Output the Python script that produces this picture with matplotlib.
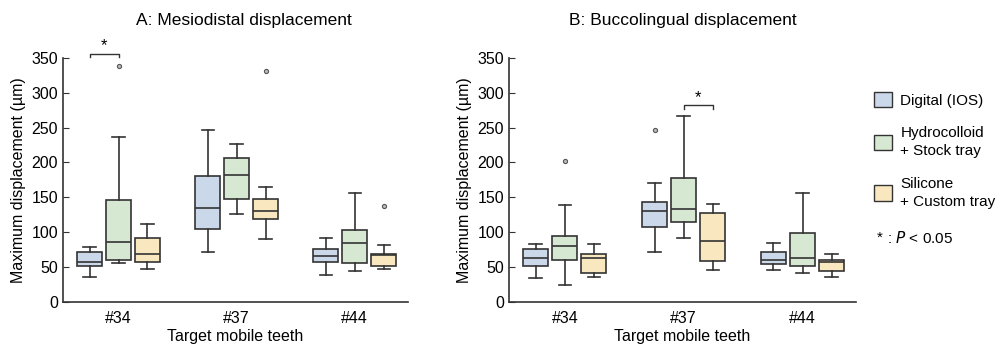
import numpy as np
import matplotlib
matplotlib.use('Agg')
import matplotlib.pyplot as plt
from matplotlib.patches import Patch

plt.rcParams['font.family'] = ['Liberation Sans', 'DejaVu Sans']

teeth = ['#34', '#37', '#44']
groups = ['Digital (IOS)', 'Hydrocolloid\n+ Stock tray', 'Silicone\n+ Custom tray']
colors = ['#cbd8ea', '#d6e8d2', '#f9e7bf']

# box stats: [whislo, q1, med, q3, whishi] per tooth, per group
md_digital = [[36, 51, 57, 72, 79], [72, 104, 134, 181, 247], [38, 57, 66, 76, 91]]
md_hydro = [[56, 60, 86, 146, 236], [126, 147, 182, 206, 226], [44, 55, 84, 103, 156]]
md_silicone = [[47, 57, 68, 91, 111], [90, 118, 130, 147, 164], [47, 51, 67, 68, 81]]
md_fliers = {(0, 1): [338], (1, 2): [331], (2, 2): [138]}

bl_digital = [[34, 51, 62, 75, 83], [72, 107, 130, 143, 171], [46, 54, 60, 72, 84]]
bl_hydro = [[24, 60, 80, 95, 139], [92, 115, 133, 177, 267], [41, 51, 62, 98, 156]]
bl_silicone = [[36, 41, 62, 68, 83], [46, 59, 87, 128, 140], [36, 44, 57, 60, 69]]
bl_fliers = {(0, 1): [202], (1, 0): [247]}

# significance: (tooth, group a, group b, y)
md_sig = [(0, 0, 1, 356)]
bl_sig = [(1, 1, 2, 282)]


def draw_panel(ax, series, fliers, sig, title, title_x):
    offsets = [-0.245, 0, 0.245]
    for g, data in enumerate(series):
        stats = []
        for t, s in enumerate(data):
            stats.append(dict(whislo=s[0], q1=s[1], med=s[2], q3=s[3], whishi=s[4],
                              fliers=fliers.get((t, g), [])))
        pos = np.arange(len(teeth)) + offsets[g]
        ax.bxp(stats, positions=pos, widths=0.21, patch_artist=True,
               boxprops=dict(facecolor=colors[g], edgecolor='#333333', linewidth=1.2),
               medianprops=dict(color='#333333', linewidth=1.2),
               whiskerprops=dict(color='#333333', linewidth=1.2),
               capprops=dict(color='#333333', linewidth=1.2),
               flierprops=dict(marker='o', markersize=3, markerfacecolor='#bbbbbb',
                               markeredgecolor='#555555', markeredgewidth=0.8))
    for t, a, b, y in sig:
        xa = t + offsets[a]
        xb = t + offsets[b]
        ax.plot([xa, xa, xb, xb], [y - 5, y, y, y - 5], color='#333333', lw=1, clip_on=False)
        ax.text((xa + xb) / 2, y + 1, '*', ha='center', va='bottom', fontsize=12, clip_on=False)
    ax.set_ylim(0, 350)
    ax.set_yticks(range(0, 351, 50))
    ax.set_xlim(-0.47, 2.45)
    ax.set_xticks(range(len(teeth)))
    ax.set_xticklabels(teeth)
    ax.tick_params(axis='x', length=0, labelsize=11.5, pad=7)
    ax.tick_params(axis='y', direction='in', length=4, labelsize=11.5, color='#333333')
    for sp in ['top', 'right']:
        ax.spines[sp].set_visible(False)
    for sp in ['left', 'bottom']:
        ax.spines[sp].set_color('#333333')
        ax.spines[sp].set_linewidth(1.2)
    ax.set_xlabel('Target mobile teeth', fontsize=11.5, labelpad=2)
    ax.set_ylabel('Maximum displacement (µm)', fontsize=11.5, labelpad=4)
    ax.set_title(title, fontsize=12.5, pad=24, x=title_x)


fig = plt.figure(figsize=(10, 3.54), dpi=100)
ax1 = fig.add_axes([0.063, 0.148, 0.345, 0.688])
ax2 = fig.add_axes([0.509, 0.148, 0.347, 0.688])

draw_panel(ax1, [md_digital, md_hydro, md_silicone], md_fliers, md_sig,
           'A: Mesiodistal displacement', 0.525)
draw_panel(ax2, [bl_digital, bl_hydro, bl_silicone], bl_fliers, bl_sig,
           'B: Buccolingual displacement', 0.5)

handles = [Patch(facecolor=c, edgecolor='#333333', linewidth=1) for c in colors]
leg = fig.legend(handles, groups, loc='upper left', bbox_to_anchor=(0.86, 0.78), frameon=False,
                 fontsize=11, handlelength=1.2, handleheight=1.2, labelspacing=1.2,
                 handletextpad=0.55)
for txt in leg.get_texts():
    txt.set_linespacing(1.4)
fig.text(0.877, 0.328, '*', fontsize=11, ha='left', va='center')
fig.text(0.887, 0.328, ': $\\it{P}$ < 0.05', fontsize=11, ha='left', va='center')

fig.savefig('out.png', dpi=100)
